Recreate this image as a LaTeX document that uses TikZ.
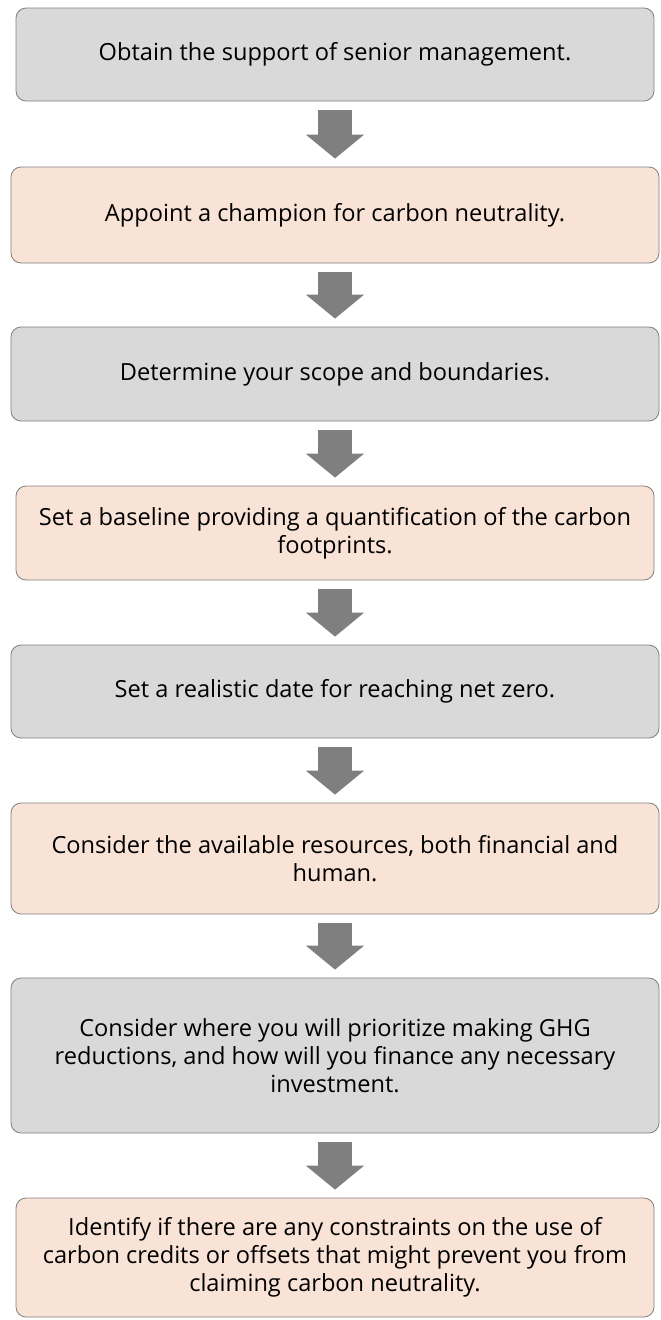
\documentclass[tikz,border=0pt]{standalone}
\usepackage{fontspec}
\setmainfont{Open Sans}
\usetikzlibrary{arrows.meta}
\definecolor{grayfill}{HTML}{D9D9D9}
\definecolor{peachfill}{HTML}{F8E3D6}
\definecolor{edgegray}{HTML}{7F7F7F}
\definecolor{arrowgray}{HTML}{7F7F7F}
\tikzset{
  stepbox/.style={draw=edgegray, line width=0.8pt, rounded corners=10pt, align=center,
    font=\fontsize{23.6}{28}\selectfont, text=black, inner sep=0pt},
  graybox/.style={stepbox, fill=grayfill},
  peachbox/.style={stepbox, fill=peachfill},
  blockarrow/.style={draw=arrowgray, line width=34pt,
    -{Triangle[width=57pt,length=24pt]}, shorten <=9pt, shorten >=8pt}
}
\begin{document}
\begin{tikzpicture}[x=1pt,y=1pt]
\useasboundingbox (0,0) rectangle (661,-1320);
\node[graybox, minimum width=638pt, minimum height=93pt] (b1) at (335,-54.5)
  {Obtain the support of senior management.};
\node[peachbox, minimum width=648pt, minimum height=96pt] (b2) at (335,-215)
  {Appoint a champion for carbon neutrality.};
\node[graybox, minimum width=648pt, minimum height=94pt] (b3) at (335,-374)
  {Determine your scope and boundaries.};
\node[peachbox, minimum width=638pt, minimum height=94pt] (b4) at (335,-533)
  {Set a baseline providing a quantification of the carbon\\footprints.};
\node[graybox, minimum width=648pt, minimum height=93pt] (b5) at (335,-691.5)
  {Set a realistic date for reaching net zero.};
\node[peachbox, minimum width=648pt, minimum height=111pt] (b6) at (335,-858.5)
  {Consider the available resources, both financial and\\human.};
\node[graybox, minimum width=648pt, minimum height=155pt] (b7) at (335,-1055.5)
  {Consider where you will prioritize making GHG\\reductions, and how will you finance any necessary\\investment.};
\node[peachbox, minimum width=638pt, minimum height=119pt] (b8) at (335,-1257.5)
  {Identify if there are any constraints on the use of\\carbon credits or offsets that might prevent you from\\claiming carbon neutrality.};
\draw[blockarrow] (b1.south) -- (b2.north);
\draw[blockarrow] (b2.south) -- (b3.north);
\draw[blockarrow] (b3.south) -- (b4.north);
\draw[blockarrow] (b4.south) -- (b5.north);
\draw[blockarrow] (b5.south) -- (b6.north);
\draw[blockarrow] (b6.south) -- (b7.north);
\draw[blockarrow] (b7.south) -- (b8.north);
\end{tikzpicture}
\end{document}
